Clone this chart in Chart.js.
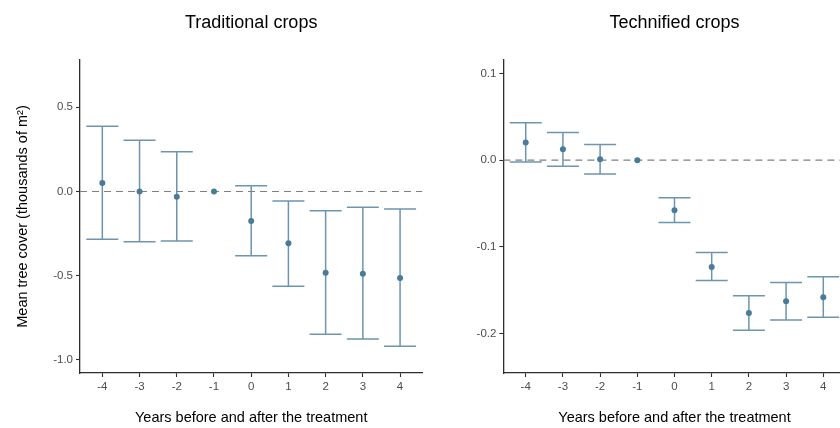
<!DOCTYPE html>
<html><head><meta charset="utf-8">
<script src="https://cdn.jsdelivr.net/npm/chart.js@4.4.0/dist/chart.umd.min.js"></script>
<style>
html,body{margin:0;padding:0;background:#fff;overflow:hidden;width:840px;height:428px;}
#wrap{position:relative;width:840px;height:428px;overflow:hidden;background:#fff;}
#c1{position:absolute;left:0;top:0;}
#c2{position:absolute;left:430px;top:0;}
</style></head><body>
<div id="wrap"><canvas id="c1" width="430" height="428"></canvas><canvas id="c2" width="430" height="428"></canvas></div>
<script>
const years = [-4, -3, -2, -1, 0, 1, 2, 3, 4];

const tradEst  = [0.050, 0.000, -0.031, 0.000, -0.175, -0.307, -0.482, -0.488, -0.513];
const tradLow  = [-0.284, -0.298, -0.294, null, -0.381, -0.563, -0.848, -0.876, -0.919];
const tradHigh = [0.387, 0.304, 0.236, null, 0.034, -0.056, -0.114, -0.094, -0.104];

const techEst  = [0.0203, 0.0127, 0.0012, 0.000, -0.0576, -0.123, -0.176, -0.1625, -0.158];
const techLow  = [-0.002, -0.007, -0.016, null, -0.0719, -0.1387, -0.196, -0.184, -0.181];
const techHigh = [0.043, 0.032, 0.018, null, -0.0434, -0.1064, -0.1563, -0.141, -0.1344];

const tradYTicks = [-1.0, -0.5, 0.0, 0.5];
const techYTicks = [-0.2, -0.1, 0.0, 0.1];

const FONT = '"Liberation Sans", Arial, Helvetica, sans-serif';
const BAR_COLOR = '#6d95b0';
const PT_COLOR = '#4a7b98';
const AXIS_COLOR = '#2e2e2e';
const TICK_TEXT = '#4d4d4d';

function makeErrorBars(low, high) {
  return {
    id: 'errorBars',
    beforeDatasetsDraw(chart) {
      const {ctx, scales: {x, y}} = chart;
      ctx.save();
      ctx.strokeStyle = BAR_COLOR;
      ctx.lineWidth = 1.5;
      low.forEach((lo, i) => {
        const hi = high[i];
        if (lo == null || hi == null) return;
        const px = x.getPixelForValue(years[i]);
        const cap = x.getPixelForValue(years[i] + 0.43) - px;
        const yl = y.getPixelForValue(lo), yh = y.getPixelForValue(hi);
        ctx.beginPath();
        ctx.moveTo(px, yl); ctx.lineTo(px, yh);
        ctx.moveTo(px - cap, yl); ctx.lineTo(px + cap, yl);
        ctx.moveTo(px - cap, yh); ctx.lineTo(px + cap, yh);
        ctx.stroke();
      });
      ctx.restore();
    }
  };
}

function makeTitle(text) {
  return {
    id: 'panelTitle',
    afterDraw(chart) {
      const {ctx, chartArea} = chart;
      ctx.save();
      ctx.fillStyle = '#000';
      ctx.font = '18px ' + FONT;
      ctx.textAlign = 'center';
      ctx.textBaseline = 'alphabetic';
      ctx.fillText(text, (chartArea.left + chartArea.right) / 2, 27.5);
      ctx.restore();
    }
  };
}

function buildChart(canvasId, title, est, low, high, yTicks, yMin, yMax, yWidth, padRight, yTitle) {
  const xMin = -4.6, xMax = 4.6;
  return new Chart(document.getElementById(canvasId), {
    type: 'scatter',
    data: {
      datasets: [
        {
          data: years.map((v, i) => ({x: v, y: est[i]})),
          pointRadius: 3,
          pointBackgroundColor: PT_COLOR,
          pointBorderWidth: 0,
          showLine: false
        },
        {
          type: 'line',
          data: [{x: xMin, y: 0}, {x: xMax, y: 0}],
          borderColor: '#808080',
          borderWidth: 1.2,
          borderDash: [7, 5],
          pointRadius: 0,
          fill: false
        }
      ]
    },
    options: {
      responsive: false,
      animation: false,
      devicePixelRatio: 1,
      layout: {padding: {left: 0, top: 60, right: padRight, bottom: 0}},
      plugins: {legend: {display: false}, tooltip: {enabled: false}, title: {display: false}},
      scales: {
        x: {
          type: 'linear',
          min: xMin, max: xMax,
          afterBuildTicks: s => { s.ticks = years.map(v => ({value: v})); },
          afterFit: s => { s.height = 55; },
          ticks: {color: TICK_TEXT, font: {size: 11.5, family: FONT}, padding: 3, autoSkip: false, maxRotation: 0,
                  callback: v => String(v)},
          grid: {display: true, drawOnChartArea: false, drawTicks: true, tickLength: 4, tickColor: AXIS_COLOR, tickWidth: 1.1},
          border: {display: true, color: AXIS_COLOR, width: 1.3},
          title: {display: true, text: 'Years before and after the treatment', color: '#000',
                  font: {size: 14.5, family: FONT}, padding: {top: 0, bottom: 1.6}}
        },
        y: {
          type: 'linear',
          min: yMin, max: yMax,
          afterBuildTicks: s => { s.ticks = yTicks.map(v => ({value: v})); },
          afterFit: s => { s.width = yWidth; },
          ticks: {color: TICK_TEXT, font: {size: 11.5, family: FONT}, padding: 3, callback: v => v.toFixed(1)},
          grid: {display: true, drawOnChartArea: false, drawTicks: true, tickLength: 4, tickColor: AXIS_COLOR, tickWidth: 1.1},
          border: {display: true, color: AXIS_COLOR, width: 1.3},
          title: yTitle ? {display: true, text: yTitle, color: '#000',
                  font: {size: 14.5, family: FONT}, padding: {top: 14.3, bottom: 0}} : {display: false}
        }
      }
    },
    plugins: [makeErrorBars(low, high), makeTitle(title)]
  });
}

buildChart('c1', 'Traditional crops', tradEst, tradLow, tradHigh, tradYTicks, -1.0774, 0.7806, 80, 7.6,
           'Mean tree cover (thousands of m²)');
buildChart('c2', 'Technified crops', techEst, techLow, techHigh, techYTicks, -0.2452, 0.1154, 73.4, 14.4, null);
</script>
</body></html>
